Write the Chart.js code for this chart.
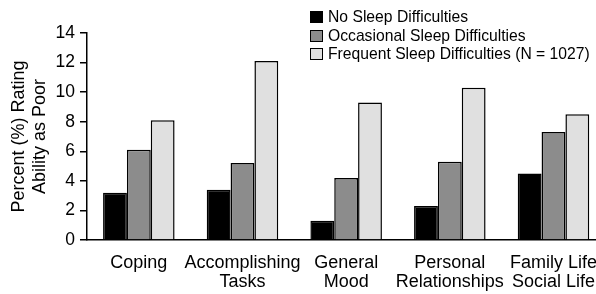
<!DOCTYPE html>
<html>
<head>
<meta charset="utf-8">
<script src="https://cdn.jsdelivr.net/npm/chart.js@4.4.1/dist/chart.umd.min.js"></script>
<style>
  body { margin: 0; background: #fff; overflow: hidden; }
  #wrap { position: relative; width: 596px; height: 294px; overflow: hidden; }
  #legend { position: absolute; left: 310px; top: 8px; font-family: "Liberation Sans", Arial, sans-serif; font-size: 15.7px; color: #000; }
  .item { height: 18.5px; line-height: 18.5px; white-space: nowrap; }
  .box { display: inline-block; width: 11px; height: 10px; border: 1px solid #000; margin-right: 5px; vertical-align: -1px; }
</style>
</head>
<body>
<div id="wrap">
  <canvas id="myChart" width="610" height="294"></canvas>
  <div id="legend"></div>
</div>
<script>
// dados
const categorias = [['Coping'], ['Accomplishing', 'Tasks'], ['General', 'Mood'], ['Personal', 'Relationships'], ['Family Life', 'Social Life']];
const semDificuldade = [3.2, 3.4, 1.3, 2.3, 4.5];
const ocasional = [6.1, 5.2, 4.2, 5.3, 7.3];
const frequente = [8.1, 12.1, 9.3, 10.3, 8.5];
const nomesSeries = ['No Sleep Difficulties', 'Occasional Sleep Difficulties', 'Frequent Sleep Difficulties (N = 1027)'];
const coresSeries = ['#000000', '#8c8c8c', '#e0e0e0'];
const ticksY = [0, 2, 4, 6, 8, 10, 12, 14];

const fonte = '"Liberation Sans", Arial, sans-serif';

const ctx = document.getElementById('myChart').getContext('2d');
const myChart = new Chart(ctx, {
    type: 'bar',
    data: {
        labels: categorias,
        datasets: [semDificuldade, ocasional, frequente].map((d, i) => ({
            label: nomesSeries[i],
            data: d,
            backgroundColor: coresSeries[i],
            borderColor: '#000',
            borderWidth: 1.5,
            borderSkipped: 'bottom',
            categoryPercentage: 0.69,
            barPercentage: 1
        }))
    },
    options: {
        responsive: false,
        animation: false,
        layout: { padding: { top: 33, left: 0, right: 0, bottom: 0 } },
        plugins: {
            legend: { display: false },
            tooltip: { enabled: false }
        },
        scales: {
            x: {
                grid: { drawOnChartArea: false, drawTicks: false },
                border: { color: '#000', width: 1.5 },
                ticks: { color: '#000', padding: 13, maxRotation: 0, autoSkip: false, font: { family: fonte, size: 18, lineHeight: 1.08 } },
                afterFit: (s) => { s.height = 54; }
            },
            y: {
                min: 0,
                max: 14,
                afterBuildTicks: (s) => { s.ticks = ticksY.map(v => ({ value: v })); },
                grid: { drawOnChartArea: false, tickLength: 7, color: '#000', lineWidth: 1.5 },
                border: { color: '#000', width: 1.5 },
                ticks: { color: '#000', padding: 5, font: { family: fonte, size: 17.5 } },
                title: {
                    display: true,
                    text: ['Percent (%) Rating', 'Ability as Poor'],
                    color: '#000',
                    font: { family: fonte, size: 18, lineHeight: 1.15 },
                    padding: { top: 9, bottom: 0 }
                },
                afterFit: (s) => { s.width = 87; }
            }
        }
    }
});

// legenda em HTML
const legenda = document.getElementById('legend');
nomesSeries.forEach((n, i) => {
    const div = document.createElement('div');
    div.className = 'item';
    div.innerHTML = '<span class="box" style="background:' + coresSeries[i] + '"></span>' + n;
    legenda.appendChild(div);
});
</script>
</body>
</html>
